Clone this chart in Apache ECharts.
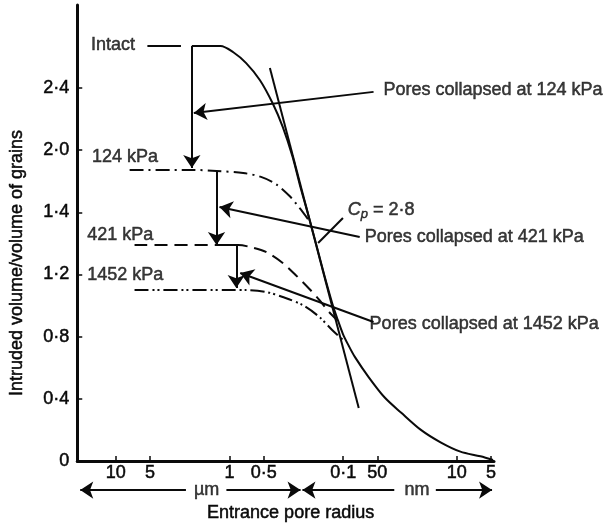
<!DOCTYPE html>
<html><head><meta charset="utf-8">
<script src="https://cdn.jsdelivr.net/npm/echarts@6/dist/echarts.min.js"></script>
<style>html,body{margin:0;padding:0;background:#fff}#c{width:613px;height:529px}</style>
</head><body><div id="c"></div>
<script>
// Entrance pore radius in nm; intruded volume / volume of grains
const xTickValues = [10000, 5000, 1000, 500, 100, 50, 10, 5];
const xTickLabels = ['10', '5', '1', '0·5', '0·1', '50', '10', '5'];
const yTickValues = [0, 0.4, 0.8, 1.2, 1.6, 2.0, 2.4];
const yTickLabels = ['0', '0·4', '0·8', '1·2', '1·4', '2·0', '2·4'];

const intactRadius = [2143, 1200, 925, 713, 539, 416, 340, 279, 237, 202, 172, 147, 125, 113, 100.4, 89.1, 78.9, 59.7, 43.3, 30.8, 20.7, 13.9, 9.3, 6.2, 4.8];
const intactVolume = [2.67, 2.67, 2.63, 2.56, 2.45, 2.30, 2.15, 1.96, 1.76, 1.58, 1.39, 1.20, 1.017, 0.92, 0.817, 0.74, 0.67, 0.54, 0.41, 0.31, 0.20, 0.12, 0.06, 0.03, 0.006];

const kpa124Radius = [7557, 2143, 1300, 757, 528, 391, 296, 242, 198];
const kpa124Volume = [1.873, 1.873, 1.866, 1.853, 1.828, 1.782, 1.705, 1.628, 1.544];

const kpa421Radius = [6839, 1300, 837, 658, 478, 340, 262, 198, 162, 133, 113];
const kpa421Volume = [1.39, 1.39, 1.39, 1.377, 1.345, 1.274, 1.197, 1.107, 1.036, 0.959, 0.907];

const kpa1452Radius = [6839, 713, 478, 340, 228, 162, 125, 100.4];
const kpa1452Volume = [1.10, 1.10, 1.088, 1.055, 1.004, 0.927, 0.843, 0.779];

// straight annotation segments [radius, volume] pairs
const plainSegments = [
  [[5272, 2.671], [2671, 2.671]],   // Intact leader
  [[441, 2.529], [72.9, 0.341]],    // tangent Cp
  [[100.4, 1.564], [166, 1.403]],   // Cp leader
  [[1300, 1.39], [871, 1.39]]       // step of 1452 arrow
];
const arrowSegments = [
  [[2143, 2.671], [2143, 1.885]],
  [[1300, 1.860], [1300, 1.390]],
  [[871, 1.390], [871, 1.113]],
  [[54.0, 2.375], [2059, 2.239]],
  [[71.5, 1.441], [1224, 1.634]],
  [[54.0, 0.894], [804, 1.210]],
  [[2415, -0.187], [20540, -0.187]],
  [[1064, -0.187], [237, -0.187]],
  [[35.5, -0.187], [228, -0.187]],
  [[15.3, -0.187], [4.9, -0.187]]
];

const labelTexts = ['Intact', '124 kPa', '421 kPa', '1452 kPa', 'Pores collapsed at 124 kPa', 'Pores collapsed at 421 kPa', 'Pores collapsed at 1452 kPa', 'µm', 'nm'];
const labelRadius = [16490, 16170, 17860, 17860, 44.2, 64.7, 58.5, 1588, 22.4];
const labelVolume = [2.677, 1.956, 1.454, 1.197, 2.387, 1.441, 0.882, -0.187, -0.187];
const cpRadius = 90.9, cpVolume = 1.615;

const lx = Math.log10;
const pts = (r, v) => r.map((x, i) => [lx(x), v[i]]);
const seg = s => ({ coords: s.map(p => [lx(p[0]), p[1]]) });
const FONT = '"Liberation Sans", Arial, sans-serif';
const INK = '#0a0a0a';
const TXT = { color: INK, fontSize: 18, fontFamily: FONT, textBorderColor: INK, textBorderWidth: 0.5 };

const chart = echarts.init(document.getElementById('c'));
const nearest = (vals, v) => { let b = 0; vals.forEach((t, i) => { if (Math.abs(t - v) < Math.abs(vals[b] - v)) b = i; }); return b; };

const labelData = labelTexts.map((t, i) => {
  const centered = (t === 'µm' || t === 'nm');
  return {
    value: [lx(labelRadius[i]), labelVolume[i]],
    label: { show: true, formatter: t, position: centered ? 'inside' : 'right', distance: 0, align: centered ? 'center' : 'left' }
  };
});
labelData.push({
  value: [lx(cpRadius), cpVolume],
  label: { show: true, position: 'right', distance: 0,
    formatter: '{c|C}{p|p}{n| = 2·8}',
    rich: { c: Object.assign({}, TXT, { fontStyle: 'italic' }),
            p: Object.assign({}, TXT, { fontStyle: 'italic', fontSize: 13, verticalAlign: 'bottom', padding: [8, 0, 0, 0] }),
            n: Object.assign({}, TXT) } }
});

chart.setOption({
  animation: false,
  backgroundColor: '#fff',
  grid: { left: 72, right: 119, top: 5, bottom: 68 },
  xAxis: {
    type: 'value', inverse: true, min: 0.673, max: 4.339,
    splitLine: { show: false },
    axisLine: { lineStyle: { color: INK, width: 3 } },
    axisTick: { inside: true, length: 5, lineStyle: { color: INK, width: 1.5 }, customValues: xTickValues.map(lx) },
    axisLabel: Object.assign({}, TXT, { margin: 3, customValues: xTickValues.map(lx),
      formatter: v => xTickLabels[nearest(xTickValues.map(lx), v)] }),
    name: 'Entrance pore radius', nameLocation: 'middle', nameGap: 43,
    nameTextStyle: Object.assign({}, TXT, { padding: [0, 0, 0, 10] })
  },
  yAxis: {
    type: 'value', min: 0, max: 2.934,
    splitLine: { show: false },
    axisLine: { show: true, lineStyle: { color: INK, width: 3 } },
    axisTick: { show: true, inside: true, length: 5, lineStyle: { color: INK, width: 1.5 }, customValues: yTickValues },
    axisLabel: Object.assign({}, TXT, { margin: 8, customValues: yTickValues,
      formatter: v => yTickLabels[nearest(yTickValues, v)] }),
    name: 'Intruded volume/volume of grains', nameLocation: 'middle', nameGap: 51,
    nameTextStyle: Object.assign({}, TXT, { padding: [0, 60, 0, 0] })
  },
  series: [
    { type: 'line', data: pts(intactRadius, intactVolume), smooth: 0.3, symbol: 'none', clip: false,
      lineStyle: { color: INK, width: 2 } },
    { type: 'line', data: pts(kpa124Radius, kpa124Volume), smooth: 0.3, symbol: 'none', clip: false,
      lineStyle: { color: INK, width: 2, type: [14, 5, 2, 5] } },
    { type: 'line', data: pts(kpa421Radius, kpa421Volume), smooth: 0.3, symbol: 'none', clip: false,
      lineStyle: { color: INK, width: 2, type: [13, 7] } },
    { type: 'line', data: pts(kpa1452Radius, kpa1452Volume), smooth: 0.3, symbol: 'none', clip: false,
      lineStyle: { color: INK, width: 2, type: [14, 4, 2, 3, 2, 4] } },
    { type: 'lines', coordinateSystem: 'cartesian2d', clip: false, symbol: 'none',
      lineStyle: { color: INK, width: 2, opacity: 1 }, data: plainSegments.map(seg) },
    { type: 'lines', coordinateSystem: 'cartesian2d', clip: false, symbol: ['none', 'arrow'], symbolSize: [1, 13],
      lineStyle: { color: INK, width: 2, opacity: 1 }, itemStyle: { color: INK }, data: arrowSegments.map(seg) },
    { type: 'scatter', symbolSize: 0, clip: false, silent: true,
      label: Object.assign({}, TXT, { distance: 0 }), data: labelData }
  ]
});
</script></body></html>
